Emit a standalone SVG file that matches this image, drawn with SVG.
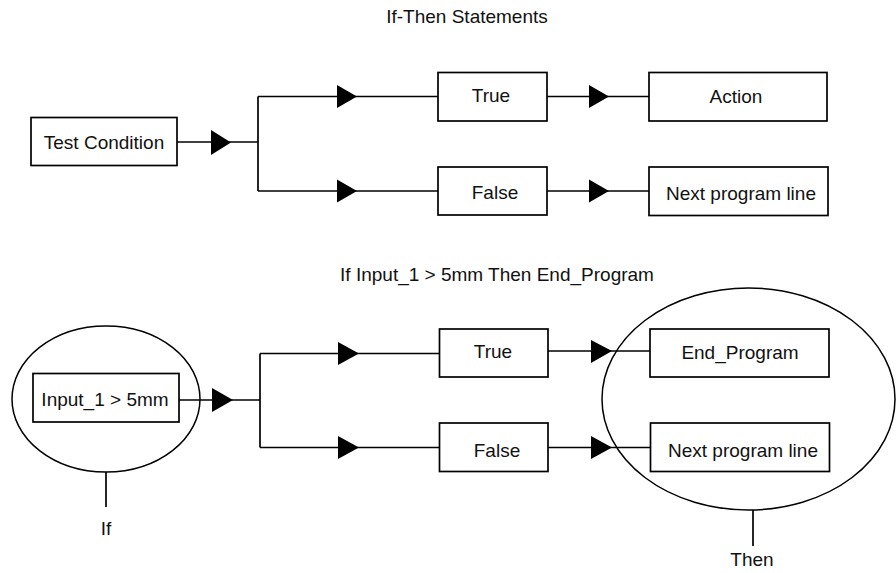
<svg xmlns="http://www.w3.org/2000/svg" width="896" height="573" viewBox="0 0 896 573">
<style>
.box{fill:#fff;stroke:#000;stroke-width:1.7}
.ln{fill:none;stroke:#000;stroke-width:1.7}
.ar{fill:#000;stroke:none}
.ell{fill:none;stroke:#000;stroke-width:1.5}
text{font-family:"Liberation Sans",Arial,sans-serif;font-size:19px;fill:#111;text-anchor:middle}
</style>
<rect width="896" height="573" fill="#fff"/>
<text x="467" y="23">If-Then Statements</text>
<text x="497" y="281">If Input_1 &gt; 5mm Then End_Program</text>
<g id="connectors">
<line class="ln" x1="177" y1="142" x2="258" y2="142"/>
<polygon class="ar" points="211,130 211,155 231,142.5"/>
<line class="ln" x1="258" y1="96.5" x2="258" y2="191"/>
<line class="ln" x1="258" y1="96.5" x2="438" y2="96.5"/>
<polygon class="ar" points="337,85 337,108 357,96.5"/>
<line class="ln" x1="258" y1="191" x2="438" y2="191"/>
<polygon class="ar" points="337,179.5 337,202.5 357,191"/>
<line class="ln" x1="547" y1="96.5" x2="649" y2="96.5"/>
<polygon class="ar" points="589,85 589,108 609,96.5"/>
<line class="ln" x1="547" y1="191" x2="649" y2="191"/>
<polygon class="ar" points="589,179.5 589,202.5 609,191"/>
<line class="ln" x1="179" y1="400" x2="260" y2="400"/>
<polygon class="ar" points="212,388 212,412 233,400"/>
<line class="ln" x1="260" y1="353.5" x2="260" y2="447.5"/>
<line class="ln" x1="260" y1="353.5" x2="439.5" y2="353.5"/>
<polygon class="ar" points="338,342 338,365 359,353.5"/>
<line class="ln" x1="260" y1="447.5" x2="439.5" y2="447.5"/>
<polygon class="ar" points="338,436 338,459 359,447.5"/>
<line class="ln" x1="548" y1="351" x2="650" y2="351"/>
<polygon class="ar" points="591,340 591,363 612,351"/>
<line class="ln" x1="548" y1="447.5" x2="650" y2="447.5"/>
<polygon class="ar" points="591,436 591,459 612,447.5"/>
<line class="ln" x1="106" y1="472" x2="106" y2="507"/>
<line class="ln" x1="753" y1="510" x2="753" y2="546"/>
</g>
<g id="test-condition"><rect class="box" x="31" y="117.5" width="146" height="48"/><text x="104" y="149">Test Condition</text></g>
<g id="true-top"><rect class="box" x="438" y="72.5" width="109" height="48.5"/><text x="491" y="102">True</text></g>
<g id="false-top"><rect class="box" x="438" y="167" width="109" height="48"/><text x="495" y="199">False</text></g>
<g id="action"><rect class="box" x="649" y="72.5" width="178" height="48.5"/><text x="736" y="103">Action</text></g>
<g id="next-top"><rect class="box" x="649" y="167" width="179" height="48.5"/><text x="741" y="200">Next program line</text></g>
<g id="if-group"><ellipse class="ell" cx="106" cy="399" rx="94" ry="73"/><rect class="box" x="33" y="373.5" width="146" height="48.5"/><text x="105" y="406">Input_1 &gt; 5mm</text><text x="106" y="535">If</text></g>
<g id="true-bottom"><rect class="box" x="439.5" y="329" width="108.5" height="48"/><text x="493" y="358">True</text></g>
<g id="false-bottom"><rect class="box" x="439.5" y="423" width="108.5" height="48.5"/><text x="497" y="457">False</text></g>
<g id="then-group"><ellipse class="ell" cx="748.5" cy="399" rx="146.5" ry="111"/><text x="752" y="566">Then</text></g>
<g id="end-program"><rect class="box" x="650" y="329" width="179" height="48"/><text x="740" y="359">End_Program</text></g>
<g id="next-bottom"><rect class="box" x="650.5" y="423" width="179" height="48.5"/><text x="743" y="457">Next program line</text></g>
</svg>
